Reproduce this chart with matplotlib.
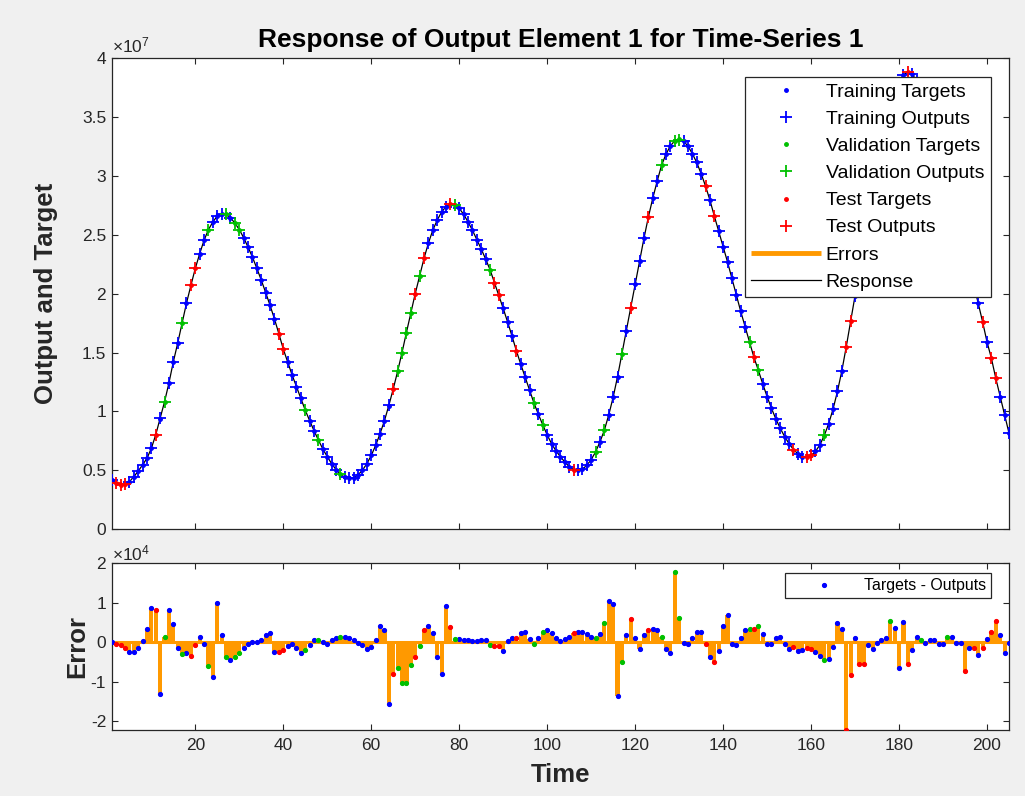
import numpy as np
import matplotlib
matplotlib.use("Agg")
import matplotlib.pyplot as plt
from matplotlib.ticker import FuncFormatter

plt.rcParams['font.family'] = ['Liberation Sans', 'DejaVu Sans']
plt.rcParams['mathtext.fontset'] = 'custom'
plt.rcParams['mathtext.rm'] = 'Liberation Sans'

# ---------------- data ----------------
time_steps = np.arange(1, 206)

# network outputs (units of 1e7)
outputs_e7 = [
    0.416, 0.39, 0.375, 0.38, 0.40, 0.445, 0.49, 0.545, 0.60, 0.685,
    0.80, 0.94, 1.08, 1.24, 1.42, 1.58, 1.75, 1.92, 2.07, 2.215,
    2.34, 2.455, 2.545, 2.61, 2.66, 2.68, 2.675, 2.645, 2.60, 2.545,
    2.475, 2.395, 2.31, 2.215, 2.115, 2.01, 1.90, 1.785, 1.66, 1.53,
    1.42, 1.31, 1.21, 1.11, 1.01, 0.92, 0.835, 0.755, 0.68, 0.615,
    0.555, 0.505, 0.465, 0.44, 0.43, 0.435, 0.46, 0.50, 0.555, 0.625,
    0.71, 0.81, 0.92, 1.05, 1.19, 1.34, 1.50, 1.67, 1.835, 2.0,
    2.15, 2.30, 2.43, 2.54, 2.625, 2.695, 2.74, 2.76, 2.755, 2.725,
    2.675, 2.61, 2.54, 2.46, 2.38, 2.295, 2.205, 2.095, 1.985, 1.875,
    1.76, 1.64, 1.515, 1.40, 1.29, 1.18, 1.07, 0.975, 0.885, 0.80,
    0.725, 0.665, 0.615, 0.57, 0.53, 0.505, 0.50, 0.51, 0.54, 0.59,
    0.655, 0.74, 0.84, 0.97, 1.12, 1.295, 1.49, 1.68, 1.875, 2.08,
    2.275, 2.47, 2.65, 2.81, 2.955, 3.09, 3.185, 3.255, 3.30, 3.31,
    3.295, 3.255, 3.19, 3.115, 3.02, 2.915, 2.795, 2.66, 2.53, 2.40,
    2.27, 2.13, 1.99, 1.85, 1.72, 1.59, 1.46, 1.35, 1.235, 1.125,
    1.025, 0.935, 0.855, 0.785, 0.725, 0.675, 0.64, 0.615, 0.61, 0.625,
    0.66, 0.715, 0.795, 0.895, 1.02, 1.17, 1.345, 1.55, 1.765, 1.98,
    2.20, 2.42, 2.63, 2.84, 3.04, 3.23, 3.40, 3.55, 3.68, 3.79,
    3.86, 3.885, 3.865, 3.81, 3.74, 3.65, 3.54, 3.42, 3.29, 3.15,
    3.00, 2.85, 2.70, 2.55, 2.39, 2.23, 2.075, 1.918, 1.76, 1.59,
    1.45, 1.28, 1.125, 0.97, 0.815,
]

# targets - outputs (units of 1e4)
errors_e4 = [
    0.0, -0.03, -0.07, -0.15, -0.24, -0.24, -0.15, 0.04, 0.34, 0.86,
    0.82, -1.32, 0.14, 0.82, 0.46, -0.15, -0.30, -0.28, -0.35, -0.08,
    0.14, -0.03, -0.59, -0.89, 1.0, 0.19, -0.36, -0.45, -0.36, -0.28,
    -0.15, -0.05, 0.0, 0.02, 0.06, 0.19, 0.24, -0.25, -0.24, -0.19,
    -0.09, -0.04, -0.15, -0.28, -0.19, -0.07, 0.06, 0.06, 0.0, -0.03,
    0.06, 0.12, 0.14, 0.14, 0.10, 0.06, -0.01, -0.07, -0.18, -0.13,
    0.06, 0.41, 0.30, -1.57, -0.81, -0.66, -1.04, -1.02, -0.57, -0.36,
    -0.09, 0.30, 0.41, 0.24, -0.38, -0.81, 0.92, 0.40, 0.08, 0.08,
    0.07, 0.06, 0.03, 0.03, 0.06, 0.06, -0.07, -0.09, -0.09, -0.21,
    0.04, 0.10, 0.10, 0.24, 0.25, 0.08, -0.03, 0.12, 0.27, 0.31,
    0.24, 0.12, 0.04, 0.08, 0.14, 0.23, 0.27, 0.25, 0.20, 0.14,
    0.10, 0.20, 0.48, 1.05, 0.97, -1.36, -0.51, 0.19, 0.58, 0.10,
    -0.18, 0.19, 0.30, 0.33, 0.30, 0.13, -0.18, -0.26, 1.79, 0.61,
    -0.01, -0.03, 0.12, 0.27, 0.25, -0.03, -0.36, -0.51, -0.21, 0.41,
    0.69, -0.04, -0.07, 0.10, 0.31, 0.33, 0.35, 0.41, 0.20, -0.03,
    -0.03, 0.12, 0.13, -0.03, -0.16, -0.11, -0.21, -0.19, -0.15, -0.18,
    -0.24, -0.35, -0.46, -0.41, -0.13, 0.48, 0.35, -2.22, -0.83, 0.10,
    -0.56, -0.56, -0.07, -0.18, -0.01, 0.06, 0.12, 0.54, 0.37, -0.66,
    0.52, -0.55, -0.19, 0.14, 0.06, -0.01, 0.06, 0.06, -0.04, -0.03,
    0.14, 0.13, -0.01, -0.01, -0.72, -0.15, -0.15, -0.32, -0.15, 0.08,
    0.27, 0.54, 0.19, -0.26, -0.01,
]

validation_steps = [13, 17, 23, 27, 29, 30, 45, 48, 53, 66, 67, 68, 69, 71, 79,
                    87, 97, 99, 111, 113, 117, 126, 129, 130, 146, 148, 163,
                    178, 185, 191]
test_steps = [2, 3, 4, 11, 19, 20, 39, 40, 65, 70, 72, 78, 88, 89, 93, 106, 119,
              123, 136, 138, 147, 156, 159, 160, 168, 169, 171, 172, 182, 195,
              197, 199, 201, 202]

# ---------------- derived ----------------
outputs = np.array(outputs_e7) * 1e7
errors = np.array(errors_e4) * 1e4
targets = outputs + errors
is_val = np.isin(time_steps, validation_steps)
is_test = np.isin(time_steps, test_steps)
is_train = ~(is_val | is_test)

BLUE, GREEN, RED, ORANGE = '#0000ff', '#00c000', '#ff0000', '#ff9900'
TXT = '#262626'

fig = plt.figure(figsize=(10.25, 7.96), dpi=100, facecolor='#f0f0f0')
ax1 = fig.add_axes([0.109, 0.3354, 0.8754, 0.5913])
ax2 = fig.add_axes([0.109, 0.0829, 0.8754, 0.2094])

# ---------------- top: response ----------------
h_resp, = ax1.plot(time_steps, outputs, color='k', lw=0.9, zorder=2, label='Response')
h_err = ax1.vlines(time_steps, outputs, targets, color=ORANGE, lw=3.5, zorder=2, label='Errors')
handles = []
for name, mask, c in [('Training', is_train, BLUE), ('Validation', is_val, GREEN),
                      ('Test', is_test, RED)]:
    ht, = ax1.plot(time_steps[mask], targets[mask], '.', color=c, ms=5, zorder=3,
                   label=f'{name} Targets')
    ho, = ax1.plot(time_steps[mask], outputs[mask], '+', color=c, ms=9, mew=1.3,
                   zorder=4, label=f'{name} Outputs')
    handles += [ht, ho]
handles += [h_err, h_resp]

ax1.set_xlim(1, 205)
ax1.set_ylim(0, 4e7)
ax1.set_xticks(range(20, 201, 20))
ax1.set_yticks(np.arange(0, 4.01e7, 0.5e7))
ax1.yaxis.set_major_formatter(FuncFormatter(lambda v, p: f'{v/1e7:g}'))
ax1.tick_params(labelbottom=False)
ax1.set_title('Response of Output Element 1 for Time-Series 1', fontsize=19,
              fontweight='bold', pad=8, color='k')
ax1.set_ylabel('Output and Target', fontsize=18.5, fontweight='bold', color=TXT)
ax1.yaxis.set_label_coords(-0.060, 0.5)
ax1.text(0.0, 1.012, r'$\times\mathregular{10^{7}}$', transform=ax1.transAxes,
         fontsize=12.5, color=TXT, ha='left', va='baseline')

leg1 = ax1.legend(handles=handles, loc='upper right', bbox_to_anchor=(0.9796, 0.9609),
                  borderaxespad=0, fontsize=14, frameon=True, fancybox=False,
                  framealpha=1, edgecolor=TXT, borderpad=0.33, handlelength=3.6,
                  handletextpad=0.25, labelspacing=0.49)
leg1.get_frame().set_linewidth(0.9)
leg1.set_zorder(10)

# ---------------- bottom: errors ----------------
ax2.bar(time_steps, errors, width=0.95, color=ORANGE, zorder=2)
ax2.axhline(0, color=ORANGE, lw=2.2, zorder=2)
err_handle = None
for mask, c in [(is_train, BLUE), (is_val, GREEN), (is_test, RED)]:
    h, = ax2.plot(time_steps[mask], errors[mask], '.', color=c, ms=5.5, zorder=3,
                  label='Targets - Outputs')
    if err_handle is None:
        err_handle = h
ax2.set_xlim(1, 205)
ax2.set_ylim(-2.22e4, 2e4)
ax2.set_xticks(range(20, 201, 20))
ax2.set_yticks([-2e4, -1e4, 0, 1e4, 2e4])
ax2.yaxis.set_major_formatter(FuncFormatter(lambda v, p: f'{v/1e4:g}'))
ax2.set_ylabel('Error', fontsize=18.5, fontweight='bold', color=TXT)
ax2.yaxis.set_label_coords(-0.0256, 0.5)
ax2.set_xlabel('Time', fontsize=18.5, fontweight='bold', color=TXT)
ax2.xaxis.set_label_coords(0.4996, -0.198)
ax2.text(0.0, 1.02, r'$\times\mathregular{10^{4}}$', transform=ax2.transAxes,
         fontsize=12.5, color=TXT, ha='left', va='baseline')
leg2 = ax2.legend(handles=[err_handle], loc='upper right', bbox_to_anchor=(0.9796, 0.940),
                  borderaxespad=0, fontsize=11.4, frameon=True, fancybox=False,
                  framealpha=1, edgecolor=TXT, borderpad=0.32, handlelength=4.34,
                  handletextpad=0.3)
leg2.get_frame().set_linewidth(0.9)

for ax in (ax1, ax2):
    ax.set_facecolor('white')
    ax.tick_params(direction='in', length=4, width=0.8, top=True, right=True,
                   colors=TXT, labelsize=12.5, pad=4)
    ax.tick_params(axis='x', pad=6)
    for s in ax.spines.values():
        s.set_color(TXT)
        s.set_linewidth(0.9)

fig.savefig('out.png', dpi=100, facecolor=fig.get_facecolor())
